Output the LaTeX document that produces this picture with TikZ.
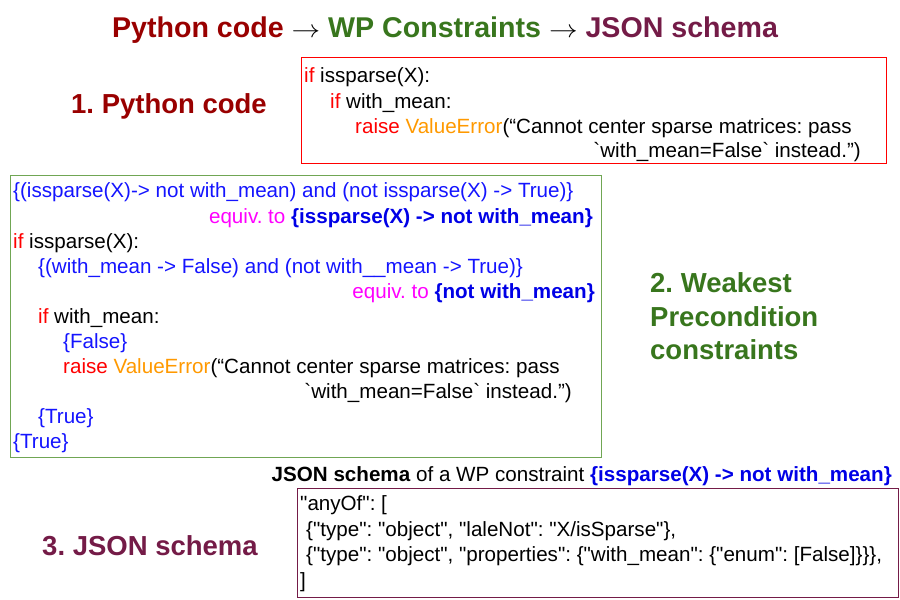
\documentclass[tikz,border=0pt]{standalone}
\usepackage{fontspec}
\setmainfont{Liberation Sans}[Ligatures=TeXOff]
\frenchspacing
\definecolor{tred}{RGB}{153,0,0}
\definecolor{tgreen}{RGB}{56,118,29}
\definecolor{tmaroon}{RGB}{116,27,71}
\definecolor{boxgreen}{RGB}{112,166,84}
\definecolor{cblue}{RGB}{20,20,255}
\definecolor{bblue}{RGB}{0,0,230}
\definecolor{cmag}{RGB}{255,0,255}
\definecolor{corange}{RGB}{255,153,0}
\definecolor{kred}{RGB}{255,0,0}
\newcommand{\kw}[1]{\textcolor{kred}{#1}}
\newcommand{\vx}[1]{\textcolor{corange}{#1}}
\newcommand{\cb}[1]{\textcolor{cblue}{#1}}
\newcommand{\bb}[1]{\textcolor{bblue}{\bfseries #1}}
\newcommand{\eqv}[1]{\textcolor{cmag}{#1}}
\tikzset{
  code/.style={inner sep=0pt, font=\fontsize{20.6}{25}\selectfont},
  codeL/.style={code, anchor=base west},
  codeR/.style={code, anchor=base east},
  title/.style={inner sep=0pt, anchor=base, font=\fontsize{28.6}{34}\selectfont\bfseries},
  section/.style={inner sep=0pt, font=\fontsize{27.5}{33}\selectfont\bfseries},
  frame/.style={draw, line width=1pt, inner sep=0pt, anchor=north west},
}
\begin{document}
\begin{tikzpicture}[x=1pt,y=-1pt]
\useasboundingbox (0,0) rectangle (900,600);
% title
\node[title] (title) at (445,37) {\textcolor{tred}{Python code} {\mdseries\scalebox{1.15}[1]{$\rightarrow$}} \textcolor{tgreen}{WP Constraints} {\mdseries\scalebox{1.15}[1]{$\rightarrow$}} \textcolor{tmaroon}{JSON schema}};
% section labels
\node[section, anchor=base, text=tred] (s1) at (169,113) {1. Python code};
\node[section, anchor=base west, text=tgreen] (s2a) at (650,292) {2. Weakest};
\node[section, anchor=base west, text=tgreen] (s2b) at (650,326) {Precondition};
\node[section, anchor=base west, text=tgreen] (s2c) at (650,359) {constraints};
\node[section, anchor=base, text=tmaroon] (s3) at (150,555) {3. JSON schema};
% red box
\node[frame, draw=kred, minimum width=585pt, minimum height=106pt] (redbox) at (301,57) {};
\node[codeL] (r1) at (304,82) {\kw{if} issparse(X):};
\node[codeL] (r2) at (330,108) {\kw{if} with\_mean:};
\node[codeL] (r3) at (355,133) {\kw{raise} \vx{ValueError}(“Cannot center sparse matrices: pass};
\node[codeR] (r4) at (861,157) {`with\_mean=False` instead.”)};
% green box
\node[frame, draw=boxgreen, minimum width=591pt, minimum height=282pt] (greenbox) at (10,175) {};
\node[codeL] (g1) at (13,197) {\cb{\{(issparse(X)-> not with\_mean) and (not issparse(X) -> True)\}}};
\node[codeR] (g2) at (593,223) {\eqv{equiv. to} \bb{\{issparse(X) -> not with\_mean\}}};
\node[codeL] (g3) at (13,248) {\kw{if} issparse(X):};
\node[codeL] (g4) at (38,273) {\cb{\{(with\_mean -> False) and (not with\_\_mean -> True)\}}};
\node[codeR] (g5) at (595,298) {\eqv{equiv. to} \bb{\{not with\_mean\}}};
\node[codeL] (g6) at (38,323) {\kw{if} with\_mean:};
\node[codeL] (g7) at (63,348) {\cb{\{False\}}};
\node[codeL] (g8) at (63,373) {\kw{raise} \vx{ValueError}(“Cannot center sparse matrices: pass};
\node[codeR] (g9) at (572,398) {`with\_mean=False` instead.”)};
\node[codeL] (g10) at (38,423) {\cb{\{True\}}};
\node[codeL] (g11) at (13,448) {\cb{\{True\}}};
% caption
\node[codeR] (cap) at (892,481) {\textbf{JSON schema} of a WP constraint \bb{\{issparse(X) -> not with\_mean\}}};
% maroon box
\node[frame, draw=tmaroon, minimum width=601pt, minimum height=109pt] (jbox) at (297,488) {};
\node[codeL] (j1) at (300,510) {"anyOf": [};
\node[codeL] (j2) at (306,536) {\{"type": "object", "laleNot": "X/isSparse"\},};
\node[codeL] (j3) at (306,561) {\{"type": "object", "properties": \{"with\_mean": \{"enum": [False]\}\}\},};
\node[codeL] (j4) at (300,587) {]};
\end{tikzpicture}
\end{document}
